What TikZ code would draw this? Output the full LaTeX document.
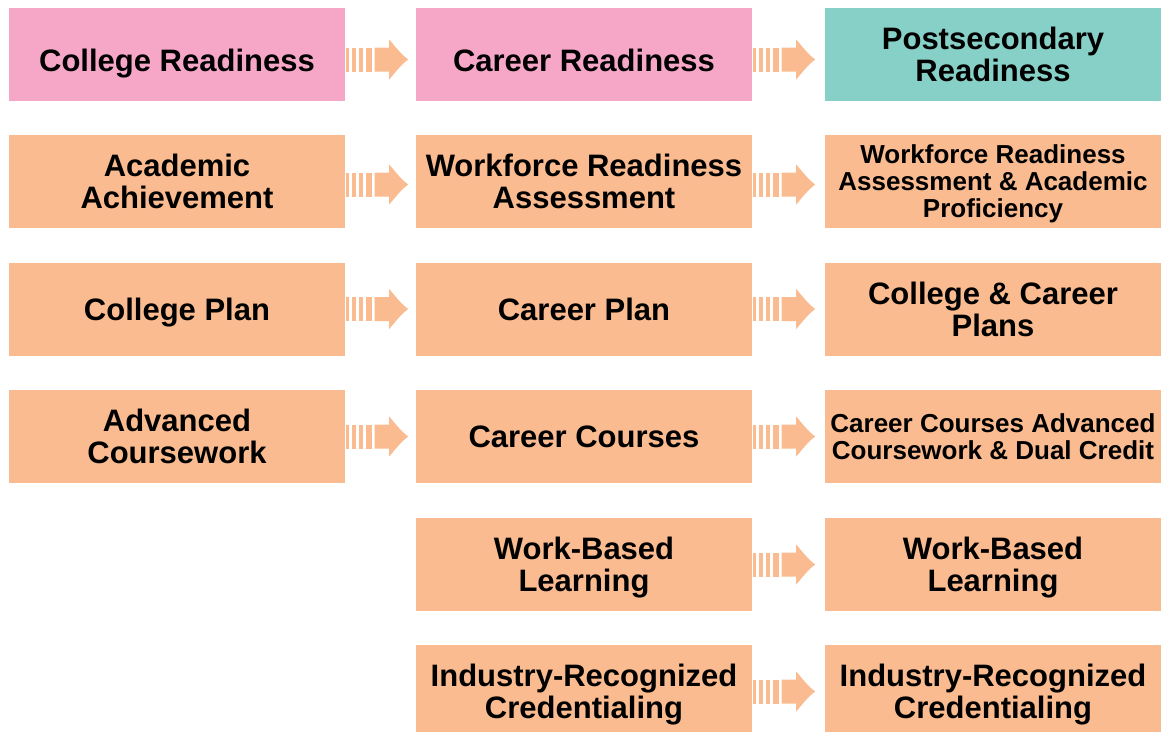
\documentclass[tikz,border=0pt]{standalone}
\usepackage{fontspec}
\setmainfont{Liberation Sans}
\definecolor{pinkbox}{HTML}{F6A7C8}
\definecolor{tealbox}{HTML}{87D0C8}
\definecolor{orangebox}{HTML}{F9BB8F}
\newcommand\bigfnt{\fontsize{31}{32}\selectfont\bfseries}
\newcommand\smallfnt{\fontsize{26}{27}\selectfont\bfseries}
\tikzset{
  box/.style={minimum width=336pt, minimum height=93pt, inner sep=0pt,
    align=center, text depth=0pt, font=\bigfnt, fill=orangebox},
  pinkb/.style={box, fill=pinkbox},
  tealb/.style={box, fill=tealbox},
  smalltxt/.style={font=\smallfnt},
  topline/.style={text height=33pt},
  stripearrow/.pic={
    \fill[orangebox] (1,-12) rectangle (4,12);
    \fill[orangebox] (7,-12) rectangle (10.5,12);
    \fill[orangebox] (13.5,-12) rectangle (17.5,12);
    \fill[orangebox] (20.5,-12) rectangle (26.5,12);
    \fill[orangebox] (29.5,-12) -- (44,-12) -- (44,-20)
      .. controls (50,-13) and (56,-5) .. (63,0)
      .. controls (56,5) and (50,13) .. (44,20)
      -- (44,12) -- (29.5,12) -- cycle;
  }
}
\begin{document}
\begin{tikzpicture}[x=1pt,y=-1pt]
\useasboundingbox (0,0) rectangle (1161,731);
% row 1
\node[pinkb, topline] (c11) at (177,54.5) {College Readiness};
\node[pinkb, topline] (c12) at (584,54.5) {Career Readiness};
\node[tealb] (c13) at (993,54.5) {Postsecondary\\Readiness};
% row 2
\node[box] (c21) at (177,181.5) {Academic\\Achievement};
\node[box] (c22) at (584,181.5) {Workforce Readiness\\Assessment};
\node[box, smalltxt] (c23) at (993,181.5) {Workforce Readiness\\Assessment \& Academic\\Proficiency};
% row 3
\node[box] (c31) at (177,309) {College Plan};
\node[box] (c32) at (584,309) {Career Plan};
\node[box] (c33) at (993,309) {College \& Career\\Plans};
% row 4
\node[box] (c41) at (177,436.5) {Advanced\\Coursework};
\node[box] (c42) at (584,436.5) {Career Courses};
\node[box, smalltxt] (c43) at (993,436.5) {Career Courses Advanced\\Coursework \& Dual Credit};
% row 5
\node[box] (c52) at (584,564.5) {Work-Based\\Learning};
\node[box] (c53) at (993,564.5) {Work-Based\\Learning};
% row 6
\node[box] (c62) at (584,691.5) {Industry-Recognized\\Credentialing};
\node[box] (c63) at (993,691.5) {Industry-Recognized\\Credentialing};
% arrows
\path (c11.east) ++(0,5) pic {stripearrow};
\path (c12.east) ++(0,5) pic {stripearrow};
\path (c21.east) ++(0,3) pic {stripearrow};
\path (c22.east) ++(0,3) pic {stripearrow};
\path (c31.east) pic {stripearrow};
\path (c32.east) pic {stripearrow};
\path (c41.east) pic {stripearrow};
\path (c42.east) pic {stripearrow};
\path (c52.east) pic {stripearrow};
\path (c62.east) pic {stripearrow};
\end{tikzpicture}
\end{document}
